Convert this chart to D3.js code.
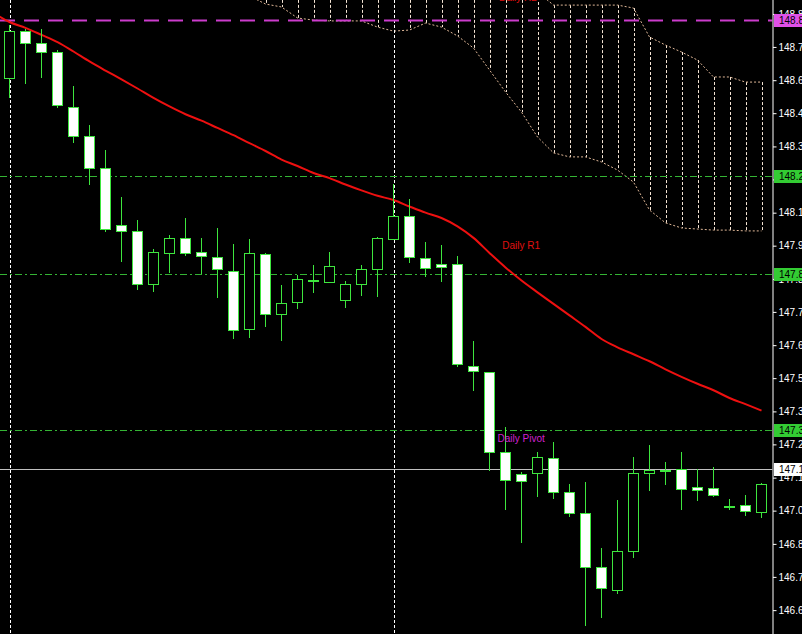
<!DOCTYPE html>
<html>
<head>
<meta charset="utf-8">
<script src="https://cdn.jsdelivr.net/npm/d3@7"></script>
<style>
  html, body { margin: 0; padding: 0; background: #000; overflow: hidden; }
  svg { display: block; font-family: "Liberation Sans", Arial, sans-serif; }
</style>
</head>
<body>
<script>
// bar data, one entry per candle (bars 0..47)
const opens  = [148.624, 148.799, 148.755, 148.721, 148.516, 148.408, 148.289, 148.076, 148.054, 147.856,
                147.972, 148.028, 147.975, 147.957, 147.905, 147.688, 147.968, 147.744, 147.789, 147.871,
                147.864, 147.796, 147.856, 147.912, 148.024, 148.110, 147.953, 147.931, 147.931, 147.550,
                147.528, 147.230, 147.148, 147.151, 147.207, 147.081, 147.002, 146.801, 146.715, 146.861,
                147.151, 147.163, 147.166, 147.099, 147.095, 147.028, 147.032, 147.006];
const highs  = [148.822, 148.807, 148.807, 148.729, 148.594, 148.449, 148.356, 148.180, 148.095, 147.987,
                148.039, 148.102, 148.028, 148.065, 148.005, 148.024, 147.972, 147.852, 147.889, 147.927,
                147.975, 147.867, 147.927, 148.031, 148.229, 148.173, 148.013, 148.002, 147.960, 147.644,
                147.528, 147.323, 147.155, 147.230, 147.267, 147.110, 147.118, 146.872, 147.051, 147.211,
                147.256, 147.192, 147.230, 147.166, 147.174, 147.054, 147.069, 147.114];
const lows   = [148.553, 148.606, 148.628, 148.516, 148.386, 148.229, 148.054, 147.942, 147.837, 147.830,
                147.901, 147.964, 147.897, 147.808, 147.655, 147.658, 147.700, 147.647, 147.767, 147.826,
                147.864, 147.770, 147.815, 147.811, 148.024, 147.938, 147.886, 147.867, 147.550, 147.461,
                147.163, 147.017, 146.894, 147.066, 147.058, 146.991, 146.585, 146.615, 146.704, 146.838,
                147.088, 147.110, 147.017, 147.051, 147.066, 147.017, 146.995, 146.987];
const closes = [148.799, 148.755, 148.721, 148.524, 148.408, 148.289, 148.061, 148.054, 147.856, 147.975,
                148.028, 147.972, 147.961, 147.912, 147.685, 147.972, 147.744, 147.785, 147.875, 147.871,
                147.923, 147.856, 147.912, 148.028, 148.110, 147.957, 147.916, 147.920, 147.558, 147.532,
                147.230, 147.125, 147.122, 147.211, 147.081, 147.002, 146.801, 146.723, 146.861, 147.151,
                147.163, 147.163, 147.092, 147.088, 147.069, 147.028, 147.010, 147.110];

// moving average, bars -1..47
const maValues = [148.867, 148.833, 148.811, 148.785, 148.758, 148.723, 148.686, 148.652, 148.619, 148.585,
                  148.550, 148.518, 148.489, 148.465, 148.438, 148.411, 148.381, 148.352, 148.320, 148.296,
                  148.270, 148.251, 148.227, 148.205, 148.185, 148.169, 148.145, 148.122, 148.102, 148.071,
                  148.028, 147.972, 147.918, 147.869, 147.825, 147.782, 147.739, 147.696, 147.651, 147.620,
                  147.594, 147.568, 147.538, 147.510, 147.484, 147.460, 147.431, 147.408, 147.384];

// cloud spans, bars 15..47
const cloudStart = 15;
const cloudUpper = [148.990, 148.990, 148.990, 148.990, 148.990, 148.990, 148.990, 148.990, 148.990, 148.990,
                    148.990, 148.990, 148.990, 148.990, 148.990, 148.990, 148.990, 148.990, 148.945, 148.896,
                    148.896, 148.896, 148.896, 148.896, 148.885, 148.777, 148.747, 148.721, 148.691, 148.628,
                    148.628, 148.609, 148.609];
const cloudLower = [148.930, 148.900, 148.889, 148.848, 148.840, 148.837, 148.837, 148.837, 148.814, 148.799,
                    148.803, 148.829, 148.814, 148.781, 148.736, 148.654, 148.572, 148.497, 148.404, 148.345,
                    148.330, 148.330, 148.311, 148.281, 148.236, 148.132, 148.084, 148.065, 148.061, 148.057,
                    148.057, 148.054, 148.054];

// horizontal levels
const r2Price = 148.840;
const greenLevels = [148.259, 147.893, 147.311];
const bidPrice = 147.166;
const separatorBars = [0, 24];
const textLabels = [
  { text: 'Daily R2', bar: 30.6, price: 148.910, color: '#e01010' },
  { text: 'Daily R1', bar: 30.8, price: 147.986, color: '#e01010' },
  { text: 'Daily Pivot', bar: 30.5, price: 147.267, color: '#d020d0' }
];
const tickValues = [148.863, 148.740, 148.616, 148.493, 148.369, 148.246, 148.122, 147.999, 147.875, 147.752,
                    147.628, 147.505, 147.381, 147.258, 147.134, 147.011, 146.887, 146.764, 146.640];

const width = 802, height = 634;
const axisX = 772.5;
const candleColor = '#3ee63e';

const x = d3.scaleLinear().domain([0, 47]).range([9.5, 761.5]);
const y = d3.scaleLinear().domain([146.551, 148.915]).range([height, 0]);
const py = v => Math.round(y(v));

const svg = d3.select('body').append('svg')
  .attr('width', width)
  .attr('height', height)
  .style('background', '#000');

svg.append('defs').append('clipPath').attr('id', 'plot')
  .append('rect').attr('x', 0).attr('y', 0).attr('width', axisX).attr('height', height);

const plot = svg.append('g').attr('clip-path', 'url(#plot)');

// cloud
const cloud = plot.append('g');
const cloudBars = cloudUpper.map((u, i) => ({ bar: cloudStart + i, upper: u, lower: cloudLower[i] }));
cloud.selectAll('.hatch')
  .data(cloudBars)
  .enter().append('line')
  .attr('x1', d => Math.round(x(d.bar)) + 0.5)
  .attr('x2', d => Math.round(x(d.bar)) + 0.5)
  .attr('y1', d => y(d.upper))
  .attr('y2', d => y(d.lower))
  .attr('stroke', '#f4e4d4')
  .attr('stroke-width', 1)
  .attr('stroke-dasharray', '3,2');

const cloudLine = key => d3.line().x(d => x(d.bar)).y(d => y(d[key]));
['upper', 'lower'].forEach(key => {
  cloud.append('path')
    .datum(cloudBars)
    .attr('d', cloudLine(key))
    .attr('fill', 'none')
    .attr('stroke', '#e0b898')
    .attr('stroke-width', 1)
    .attr('stroke-dasharray', '2,2');
});

// day separators
plot.selectAll('.sep')
  .data(separatorBars)
  .enter().append('line')
  .attr('x1', d => Math.round(x(d)) + 0.5)
  .attr('x2', d => Math.round(x(d)) + 0.5)
  .attr('y1', 0)
  .attr('y2', height)
  .attr('stroke', '#ffffff')
  .attr('stroke-dasharray', '3,2');

// levels
plot.append('line')
  .attr('x1', 0).attr('x2', axisX)
  .attr('y1', py(r2Price) + 0.5).attr('y2', py(r2Price) + 0.5)
  .attr('stroke', '#cc3ccc')
  .attr('stroke-width', 2)
  .attr('stroke-dasharray', '15,9');

plot.selectAll('.lvl')
  .data(greenLevels)
  .enter().append('line')
  .attr('x1', 0).attr('x2', axisX)
  .attr('y1', d => py(d) + 0.5).attr('y2', d => py(d) + 0.5)
  .attr('stroke', '#34b434')
  .attr('stroke-dasharray', '7,3,2,3');

plot.append('line')
  .attr('x1', 0).attr('x2', axisX)
  .attr('y1', py(bidPrice) + 0.5).attr('y2', py(bidPrice) + 0.5)
  .attr('stroke', '#c0c0c0');

// moving average
plot.append('path')
  .datum(maValues)
  .attr('d', d3.line().x((d, i) => x(i - 1)).y(d => y(d)).curve(d3.curveMonotoneX))
  .attr('fill', 'none')
  .attr('stroke', '#ee1010')
  .attr('stroke-width', 2);

// candles
const candles = opens.map((o, i) => ({ i, o, h: highs[i], l: lows[i], c: closes[i] }));
const cg = plot.selectAll('.candle')
  .data(candles)
  .enter().append('g');

cg.append('line')
  .attr('x1', d => x(d.i)).attr('x2', d => x(d.i))
  .attr('y1', d => py(d.h)).attr('y2', d => py(d.l) + 1)
  .attr('stroke', candleColor);

cg.append('rect')
  .attr('x', d => x(d.i) - 5)
  .attr('y', d => py(Math.max(d.o, d.c)) + 0.5)
  .attr('width', 10)
  .attr('height', d => Math.max(1, py(Math.min(d.o, d.c)) - py(Math.max(d.o, d.c))))
  .attr('fill', d => d.c > d.o ? '#000' : '#fff')
  .attr('stroke', candleColor);

// text labels
plot.selectAll('.lbl')
  .data(textLabels)
  .enter().append('text')
  .attr('x', d => x(d.bar))
  .attr('y', d => y(d.price))
  .attr('fill', d => d.color)
  .attr('font-size', 10)
  .text(d => d.text);

// price axis
const axis = svg.append('g')
  .attr('transform', `translate(${axisX},0)`)
  .call(d3.axisRight(y)
    .tickValues(tickValues)
    .tickSize(4)
    .tickSizeOuter(0)
    .tickPadding(2)
    .tickFormat(d3.format('.3f')));
axis.select('.domain').attr('stroke', '#fff').attr('d', `M0.5,0V${height}`);
axis.selectAll('.tick line').attr('stroke', '#fff').attr('x1', 0.5);
axis.selectAll('.tick text')
  .attr('fill', '#fff')
  .attr('font-size', 10)
  .attr('font-family', '"Liberation Sans", Arial, sans-serif');

// price tags on the axis
const tags = [
  { price: r2Price, bg: '#e050e8' },
  ...greenLevels.map(p => ({ price: p, bg: '#33cc33' })),
  { price: bidPrice, bg: '#ffffff' }
];
const tg = svg.selectAll('.tag')
  .data(tags)
  .enter().append('g')
  .attr('transform', d => `translate(${axisX + 1.5},${py(d.price)})`);
tg.append('rect')
  .attr('x', 0).attr('y', -6)
  .attr('width', 40).attr('height', 13)
  .attr('fill', d => d.bg);
tg.append('text')
  .attr('x', 5).attr('y', 4)
  .attr('font-size', 10)
  .attr('fill', '#000')
  .text(d => d3.format('.3f')(d.price));
</script>
</body>
</html>
